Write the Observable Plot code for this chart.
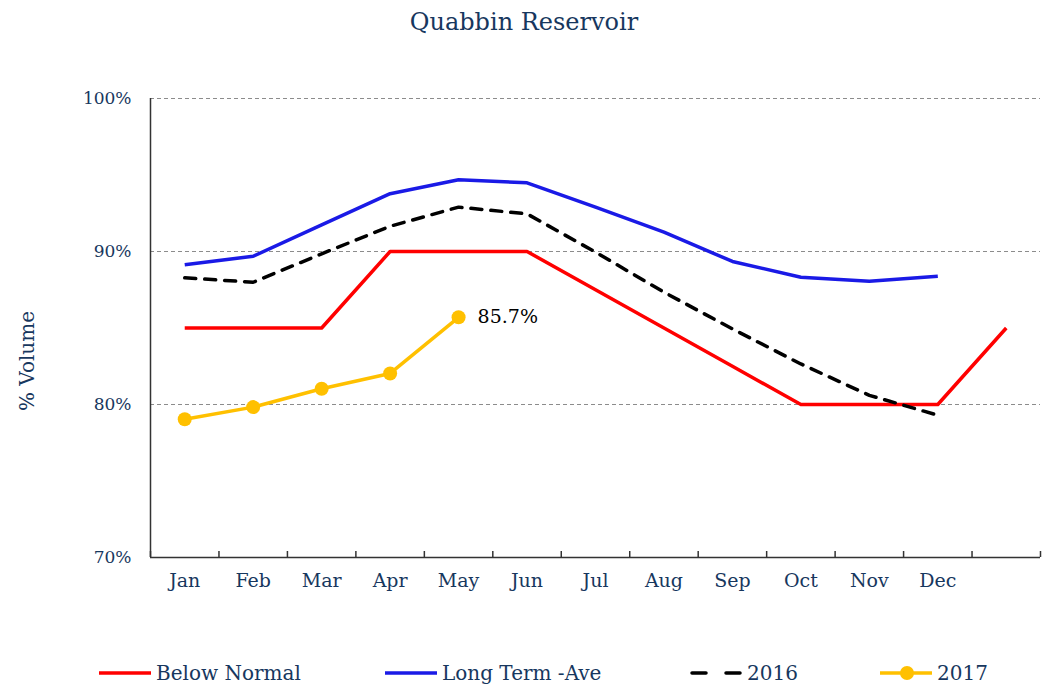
<!DOCTYPE html>
<html>
<head>
<meta charset="utf-8">
<script src="https://cdn.jsdelivr.net/npm/d3@7"></script>
<script src="https://cdn.jsdelivr.net/npm/@observablehq/plot@0.6"></script>
<style>
  html, body { margin: 0; padding: 0; background: #fff; }
  #wrap { position: relative; width: 1048px; height: 687px; font-family: "DejaVu Serif", serif; color: #17375e; }
  #title { position: absolute; top: 8px; left: 0; width: 1048px; text-align: center; font-size: 24px; color: #17375e; }
  #chart { position: absolute; top: 50px; left: 0; }
  #legend { position: absolute; top: 659px; left: 0; width: 1048px; height: 28px; }
  .item { position: absolute; top: 0; display: flex; align-items: center; font-size: 20px; color: #17375e; white-space: nowrap; }
  .item svg { margin-right: 5px; }
</style>
</head>
<body>
<div id="wrap">
  <div id="title">Quabbin Reservoir</div>
  <div id="chart"></div>
  <div id="legend"></div>
</div>
<script>
const months = ["Jan","Feb","Mar","Apr","May","Jun","Jul","Aug","Sep","Oct","Nov","Dec"];
const belowNormal = [85, 85, 85, 90, 90, 90, 87.5, 85, 82.5, 80, 80, 80, 85];
const longTermAve = [89.13, 89.69, 91.74, 93.78, 94.69, 94.49, 92.9, 91.26, 89.35, 88.32, 88.06, 88.39];
const y2016 = [88.28, 87.99, 89.85, 91.65, 92.9, 92.46, 89.96, 87.34, 84.94, 82.65, 80.6, 79.3];
const y2017 = [79.04, 79.83, 81.03, 82.03, 85.7];
const yTicks = [70, 80, 90, 100];
const gridLines = [80, 90, 100];
const lastLabel = "85.7%";

const series = [
  {name: "Below Normal", values: belowNormal, color: "#ff0000", width: 3.5, dash: null},
  {name: "Long Term -Ave", values: longTermAve, color: "#1a1ae6", width: 3.5, dash: null},
  {name: "2016", values: y2016, color: "#000000", width: 3.5, dash: "11,9"},
  {name: "2017", values: y2017, color: "#ffc000", width: 3.5, dash: null, dot: true}
];

const rows = s => s.values.map((v, i) => ({x: i + 0.5, y: v, name: s.name}));
const nBands = belowNormal.length;
const textColor = "#17375e";
const font = "DejaVu Serif";

const marks = [
  Plot.ruleY(gridLines, {stroke: "#8c8c8c", strokeWidth: 1, strokeDasharray: "4,3"}),
  Plot.axisY({ticks: yTicks, tickFormat: d => d + "%", tickSize: 0, tickPadding: 19, fontSize: 17, fill: textColor, label: null}),
  Plot.axisX({ticks: d3.range(nBands - 1).map(i => i + 0.5), tickFormat: d => months[Math.floor(d)], tickSize: 0, tickPadding: 16, fontSize: 19, fill: textColor, label: null}),
  Plot.axisX({ticks: d3.range(nBands + 1), tickFormat: () => "", tickSize: -6, stroke: "#333", strokeWidth: 1.5, label: null}),
  Plot.ruleX([0], {stroke: "#333", strokeWidth: 1.5}),
  Plot.ruleY([yTicks[0]], {stroke: "#333", strokeWidth: 1.5}),
];
for (const s of series) {
  marks.push(Plot.line(rows(s), {x: "x", y: "y", stroke: s.color, strokeWidth: s.width, strokeDasharray: s.dash, strokeLinejoin: "round", strokeLinecap: s.dash ? "round" : "butt"}));
  if (s.dot) marks.push(Plot.dot(rows(s), {x: "x", y: "y", r: 7, fill: s.color, stroke: null}));
}
const last2017 = rows(series[3]).slice(-1);
marks.push(Plot.text(last2017, {x: "x", y: "y", text: () => lastLabel, textAnchor: "start", dx: 19, fontSize: 19, fill: "#000"}));
marks.push(Plot.text(["% Volume"], {frameAnchor: "left", textAnchor: "middle", text: d => d, rotate: -90, dx: -123, dy: 33, fontSize: 20, fill: textColor}));

const chart = Plot.plot({
  width: 1048,
  height: 560,
  marginTop: 48,
  marginBottom: 53,
  marginLeft: 150,
  marginRight: 8,
  style: {fontFamily: font, background: "#fff", overflow: "visible"},
  x: {type: "linear", domain: [0, nBands], axis: null},
  y: {domain: [yTicks[0], yTicks[yTicks.length - 1]], axis: null},
  marks
});
document.getElementById("chart").appendChild(chart);

// legend
const legendPos = [99, 385, 690, 880];
const legend = document.getElementById("legend");
series.forEach((s, i) => {
  const item = document.createElement("div");
  item.className = "item";
  item.style.left = legendPos[i] + "px";
  const svg = d3.create("svg").attr("width", 52).attr("height", 28);
  svg.append("line").attr("x1", s.dash ? 2 : 0).attr("x2", s.dash ? 50 : 52).attr("y1", 14).attr("y2", 14)
    .attr("stroke", s.color).attr("stroke-width", s.width)
    .attr("stroke-dasharray", s.dash ? "14,20" : null).attr("stroke-linecap", "round");
  if (s.dot) svg.append("circle").attr("cx", 27).attr("cy", 14).attr("r", 7).attr("fill", s.color);
  item.appendChild(svg.node());
  const t = document.createElement("span");
  t.textContent = s.name;
  item.appendChild(t);
  legend.appendChild(item);
});
</script>
</body>
</html>
